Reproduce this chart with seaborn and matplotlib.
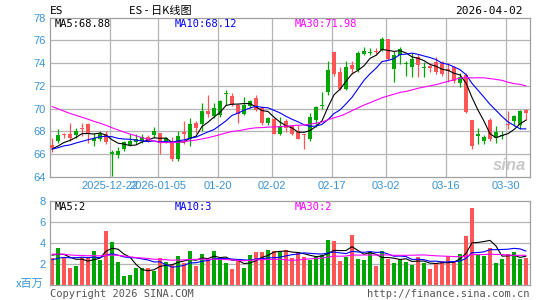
import numpy as np
import pandas as pd
import seaborn as sns
import matplotlib
matplotlib.use("Agg")
import matplotlib.pyplot as plt

sns.set_style("white")
plt.rcParams['font.family'] = ['Liberation Sans', 'Noto Sans CJK SC', 'DejaVu Sans']

# ---- data ----
tick_labels = ["2025-12-22", "2026-01-05", "01-20", "02-02", "02-17", "03-02", "03-16", "03-30"]
tick_pos = [10, 18, 28, 37, 47, 56, 66, 76]

opens = [66.79, 67.2, 67.78, 67.78, 67.7, 68.3, 68.65, 67.2, 67.3, 67.8,
         66.0, 65.9, 66.5, 66.85, 67.1, 67.2, 67.5, 67.7, 67.87, 67.15,
         67.1, 65.55, 67.95, 67.3, 68.75, 68.65, 69.8, 69.35, 69.4, 71.25,
         71.15, 70.35, 69.5, 70.2, 70.95, 70.05, 68.75, 69.1, 67.8, 68.95,
         68.45, 68.07, 67.75, 67.3, 69.0, 70.2, 71.5, 74.96, 73.22, 71.7,
         73.8, 73.36, 74.8, 74.9, 75.02, 75.16, 76.1, 73.5, 74.75, 73.92,
         73.65, 74.52, 73.58, 73.75, 74.1, 74.1, 73.5, 73.62, 72.29, 72.96,
         68.99, 67.59, 67.16, 69.04, 67.45, 67.6, 68.62, 68.9, 68.6, 69.91]
closes = [66.56, 67.73, 67.65, 67.43, 68.0, 68.2, 67.8, 67.45, 67.85, 67.05,
          66.2, 66.3, 67.05, 67.2, 67.3, 67.5, 67.2, 68.0, 67.0, 67.4,
          65.55, 67.6, 67.8, 68.65, 68.3, 69.8, 69.5, 70.05, 70.7, 71.35,
          70.35, 69.55, 70.3, 70.65, 69.9, 68.75, 69.15, 67.8, 68.5, 68.3,
          67.8, 67.3, 67.7, 69.25, 70.15, 70.25, 73.35, 73.07, 71.7, 73.65,
          73.5, 74.87, 75.1, 74.95, 74.98, 76.15, 74.38, 74.67, 75.25, 74.0,
          74.4, 73.8, 73.62, 73.6, 73.2, 73.07, 73.3, 72.4, 72.81, 69.68,
          66.72, 67.74, 67.54, 67.3, 67.94, 67.68, 68.58, 69.33, 69.77, 69.62]
highs = [67.43, 68.25, 67.88, 68.72, 68.3, 68.75, 68.7, 67.85, 68.0, 68.0,
         66.4, 66.65, 67.15, 67.8, 67.78, 67.78, 67.65, 68.4, 67.9, 67.5,
         67.5, 68.0, 68.9, 69.2, 68.9, 70.5, 71.2, 70.5, 70.8, 71.6,
         71.35, 70.4, 71.0, 70.8, 71.2, 70.2, 69.25, 69.2, 69.25, 69.1,
         68.6, 68.6, 67.8, 69.6, 70.25, 71.45, 74.2, 75.0, 73.65, 74.2,
         74.17, 75.1, 75.4, 75.3, 75.35, 76.3, 76.15, 75.1, 75.45, 74.17,
         74.87, 74.8, 74.1, 74.0, 74.5, 74.2, 74.0, 73.7, 73.1, 73.1,
         68.99, 68.3, 67.65, 69.19, 68.46, 68.0, 69.77, 69.48, 69.91, 69.97]
lows = [66.18, 67.0, 67.4, 67.2, 67.45, 67.6, 67.0, 66.7, 67.2, 66.9,
        64.1, 65.7, 66.3, 66.7, 66.9, 67.0, 67.1, 67.45, 66.05, 67.0,
        65.4, 65.4, 66.9, 66.7, 67.9, 68.0, 69.3, 69.2, 69.3, 70.35,
        70.2, 68.75, 69.4, 70.05, 69.75, 68.55, 68.6, 67.75, 67.7, 67.95,
        67.65, 67.3, 66.5, 67.2, 68.4, 70.0, 71.2, 72.9, 71.6, 71.6,
        73.0, 73.2, 74.67, 74.7, 74.7, 75.1, 74.3, 72.35, 73.95, 72.9,
        72.78, 72.78, 72.8, 73.2, 73.05, 72.9, 72.3, 72.25, 71.88, 69.6,
        66.43, 66.87, 66.87, 67.16, 67.0, 67.3, 68.17, 68.46, 68.17, 69.04]
volumes = [2.6, 3.55, 2.6, 1.65, 1.85, 2.65, 2.65, 3.25, 2.4, 5.1,
           4.1, 2.2, 0.9, 0.95, 1.65, 1.65, 1.65, 1.35, 2.55, 2.2,
           1.9, 2.75, 2.05, 3.25, 1.85, 3.0, 2.4, 3.25, 2.55, 2.1,
           1.5, 2.4, 1.65, 2.85, 3.15, 3.1, 3.35, 3.25, 3.15, 3.35,
           2.6, 3.1, 2.7, 2.4, 2.7, 2.9, 4.3, 4.2, 2.3, 2.7,
           4.75, 2.5, 2.4, 3.1, 1.85, 3.25, 2.5, 2.05, 2.5, 2.2,
           1.95, 2.7, 2.05, 1.5, 2.05, 2.3, 2.75, 2.3, 3.0, 4.7,
           7.35, 2.9, 2.75, 3.55, 2.05, 2.5, 3.0, 3.1, 2.5, 2.6]

# sessions before the visible window, only used to start the moving averages
prev_close = [73.6, 73.9, 73.4, 73.0, 73.3, 72.9, 73.1, 72.6, 72.8, 72.5,
              72.2, 72.6, 72.4, 71.9, 72.3, 72.0, 71.8, 71.6, 66.9, 66.2,
              66.5, 66.0, 66.6, 66.3, 66.8, 66.4, 66.1, 66.5, 66.7]
prev_vol = [3.4, 2.9, 3.6, 3.1, 2.8, 3.5, 3.3, 2.7, 3.9, 3.0,
            3.2, 2.6, 3.4, 3.7, 2.9, 3.1, 3.5, 2.8, 3.3, 3.3,
            2.1, 1.8, 2.0, 1.7, 2.2, 3.1, 2.7, 3.0, 2.8]

price_legend = ["MA5:68.88", "MA10:68.12", "MA30:71.98"]
vol_legend = ["MA5:2", "MA10:3", "MA30:2"]

RED = "#ff5555"
GREEN = "#00a600"
TICK = "#3a93d8"
GRID = "#b4b4b4"
MA_COLORS = ["black", "#0000ff", "#ff00ff"]

n = len(closes)
df = pd.DataFrame({"i": np.arange(n), "open": opens, "close": closes,
                   "high": highs, "low": lows, "vol": volumes})
full_c = pd.Series(prev_close + closes)
full_v = pd.Series(prev_vol + volumes)
for w in (5, 10, 30):
    df[f"ma{w}"] = full_c.rolling(w).mean().iloc[len(prev_close):].values
    df[f"vma{w}"] = full_v.rolling(w).mean().iloc[len(prev_vol):].values
up = df["close"] >= df["open"]
colors = np.where(up, GREEN, RED)

W, H = 545, 300
fig = plt.figure(figsize=(W / 100, H / 100), dpi=100)
ax1 = fig.add_axes([50 / W, 1 - 177 / H, 480 / W, 159.5 / H])
ax2 = fig.add_axes([50 / W, 15 / H, 480 / W, 84 / H])

xlim = (-1 / 3, n - 1 / 3)
grid_x = [p - 1 / 3 for p in tick_pos]

# ---- price panel ----
ax1.set_xlim(*xlim)
ax1.set_ylim(64, 78)
for y in range(66, 78, 2):
    ax1.axhline(y, color=GRID, lw=0.9, zorder=0)
for x in grid_x:
    ax1.axvline(x, color=GRID, lw=0.9, zorder=0)

ax1.vlines(df["i"], df["low"], df["high"], colors=colors, lw=0.9, zorder=2)
body_lo = np.minimum(df["open"], df["close"])
body_h = np.maximum(np.abs(df["close"] - df["open"]), 0.09)
ax1.bar(df["i"], body_h, bottom=body_lo, width=0.67, color=colors,
        linewidth=0, zorder=3)

for w, c in zip((5, 10, 30), MA_COLORS):
    sns.lineplot(x="i", y=f"ma{w}", data=df, color=c, lw=0.8, ax=ax1, zorder=4)

ax1.set_yticks(range(64, 79, 2))
ax1.set_yticklabels([str(v) for v in range(64, 79, 2)])
ax1.set_xticks(grid_x)
ax1.set_xticklabels(tick_labels)
ax1.tick_params(length=0, labelsize=8, labelcolor=TICK, pad=3)
ax1.set_xlabel("")
ax1.set_ylabel("")

# ---- volume panel ----
ax2.set_xlim(*xlim)
ax2.set_ylim(0, 8)
for y in (2, 4, 6):
    ax2.axhline(y, color=GRID, lw=0.9, zorder=0)
ax2.bar(df["i"], df["vol"], width=0.75, color=colors, linewidth=0, zorder=2)
for w, c in zip((5, 10, 30), MA_COLORS):
    sns.lineplot(x="i", y=f"vma{w}", data=df, color=c, lw=0.8, ax=ax2, zorder=4)
ax2.set_yticks([2, 4, 6, 8])
ax2.set_yticklabels(["2", "4", "6", "8"])
ax2.set_xticks([])
ax2.tick_params(length=0, labelsize=8, labelcolor=TICK, pad=3)
ax2.set_xlabel("")
ax2.set_ylabel("")

for ax in (ax1, ax2):
    for s in ax.spines.values():
        s.set_color("#a0a0a0")
        s.set_linewidth(0.9)

mono = "DejaVu Sans Mono"


def ftext(x, y, s, **kw):
    fig.text(x / W, 1 - y / H, s, va="center", **kw)


# titles
ftext(50, 11, "ES", fontsize=8, color="black", family=mono)
ftext(160, 11, "ES - 日K线图", fontsize=8, color="black", ha="center",
      family=["Noto Sans CJK SC", "DejaVu Sans"])
ftext(523, 11, "2026-04-02", fontsize=8, color="black", ha="right", family=mono)

# legends
for s, x, c in zip(price_legend, (55, 175, 295), MA_COLORS):
    ftext(x, 24, s, fontsize=7.5, color=c, family=mono)
for s, x, c in zip(vol_legend, (55, 175, 295), MA_COLORS):
    ftext(x, 207, s, fontsize=7.5, color=c, family=mono)

ftext(44, 284, "x百万", fontsize=8, color=TICK, ha="right",
      family=["Noto Sans CJK SC", "DejaVu Sans"])
ftext(50, 294, "Copyright 2026 SINA.COM", fontsize=7.5, color="#555555", family=mono)
ftext(529, 294, "http://finance.sina.com.cn", fontsize=7.5, color="#555555",
      ha="right", family=mono)

# watermark
ftext(526, 165, "sina", fontsize=12, color="#bbbbbb", ha="right",
      style="italic", weight="bold", alpha=0.8)

fig.savefig("out.png", dpi=100)
